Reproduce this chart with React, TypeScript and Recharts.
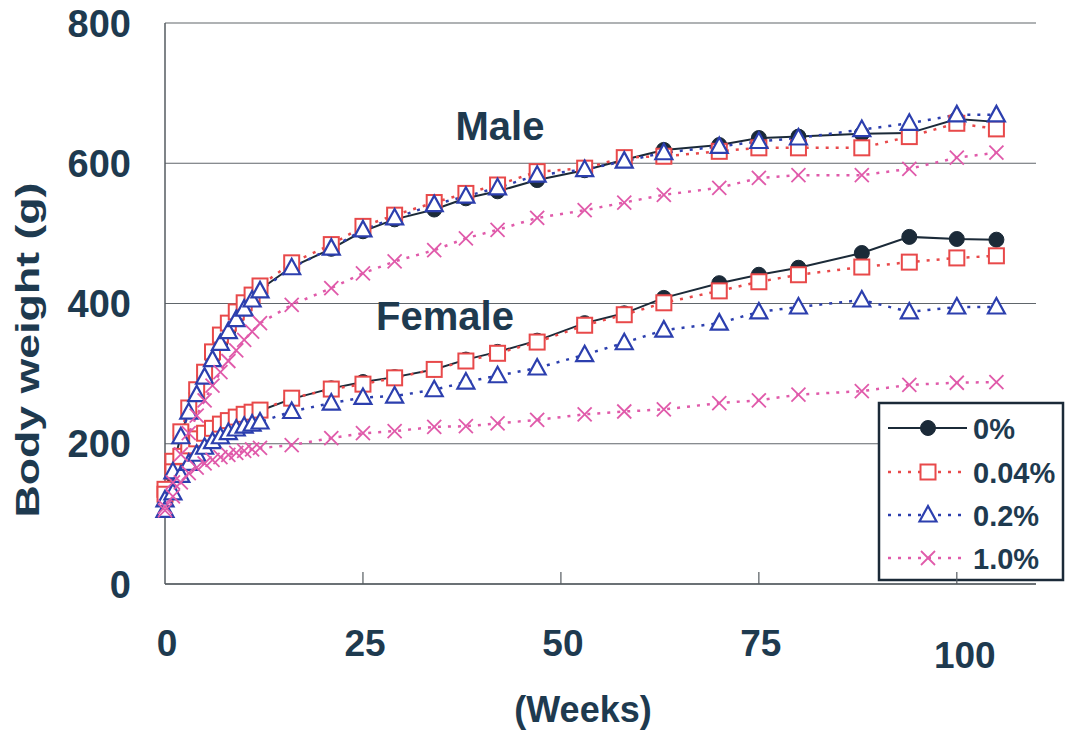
import React from 'react';
import { LineChart, Line, XAxis, YAxis, CartesianGrid, Customized } from 'recharts';

// ---- data ----
const weeks = [0, 1, 2, 3, 4, 5, 6, 7, 8, 9, 10, 11, 12, 16, 21, 25, 29, 34, 38, 42, 47, 53, 58, 63, 70, 75, 80, 88, 94, 100, 105];

const male0 = [128, 165, 212, 247, 272, 297, 323, 345, 362, 380, 394, 407, 420, 452, 478, 503, 520, 534, 550, 560, 576, 590, 605, 619, 626, 636, 638, 642, 643, 663, 659];
const male004 = [135, 175, 217, 251, 277, 302, 331, 355, 372, 388, 401, 412, 425, 458, 484, 510, 526, 544, 557, 569, 588, 593, 608, 610, 617, 622, 622, 622, 638, 657, 649];
const male02 = [120, 160, 210, 245, 270, 295, 320, 343, 360, 377, 392, 405, 418, 451, 479, 505, 522, 541, 553, 565, 583, 591, 603, 615, 624, 631, 636, 648, 657, 669, 669];
const male10 = [110, 145, 185, 215, 240, 262, 283, 302, 318, 333, 348, 360, 372, 398, 422, 443, 460, 476, 493, 505, 522, 533, 544, 555, 565, 579, 583, 583, 592, 608, 615];

const female0 = [125, 155, 180, 195, 205, 213, 220, 226, 231, 236, 240, 244, 247, 264, 279, 288, 295, 306, 320, 331, 347, 372, 386, 408, 429, 441, 451, 472, 495, 492, 491];
const female004 = [128, 160, 182, 197, 207, 215, 222, 228, 233, 238, 242, 245, 248, 265, 278, 285, 294, 306, 318, 329, 345, 369, 384, 401, 418, 431, 441, 452, 459, 465, 468];
const female02 = [105, 130, 155, 172, 185, 195, 203, 210, 216, 221, 225, 228, 231, 246, 258, 266, 268, 277, 288, 297, 308, 327, 344, 362, 372, 388, 395, 405, 388, 395, 395];
const female10 = [105, 125, 145, 158, 166, 172, 177, 181, 184, 187, 190, 192, 194, 198, 208, 215, 218, 224, 225, 229, 234, 242, 246, 249, 258, 262, 270, 275, 284, 287, 288];

const xTicks = [0, 25, 50, 75, 100];
const yTicks = [0, 200, 400, 600, 800];
const legendLabels = ['0%', '0.04%', '0.2%', '1.0%'];

const data = weeks.map((w, i) => ({
  week: w,
  m0: male0[i],
  m004: male004[i],
  m02: male02[i],
  m10: male10[i],
  f0: female0[i],
  f004: female004[i],
  f02: female02[i],
  f10: female10[i],
}));

// ---- styles ----
const TEXT = '#1e3a4f';
const FONT = '"Liberation Sans", Arial, Helvetica, sans-serif';
const BLACK = '#1b2a38';
const RED = '#e8494a';
const BLUE = '#2c3fae';
const PINK = '#e05aaa';
const AXIS = '#555b60';

type Kind = 'circle' | 'square' | 'triangle' | 'x';

function drawMarker(kind: Kind, cx: number, cy: number, key?: string) {
  if (kind === 'circle') {
    return <circle key={key} cx={cx} cy={cy} r={7.5} fill={BLACK} stroke={BLACK} strokeWidth={1} />;
  }
  if (kind === 'square') {
    return <rect key={key} x={cx - 7.5} y={cy - 7.5} width={15} height={15} fill="#fff" stroke={RED} strokeWidth={2} />;
  }
  if (kind === 'triangle') {
    return (
      <polygon
        key={key}
        points={`${cx},${cy - 9} ${cx - 8.5},${cy + 6.5} ${cx + 8.5},${cy + 6.5}`}
        fill="#fff"
        stroke={BLUE}
        strokeWidth={2.2}
      />
    );
  }
  return (
    <g key={key}>
      <line x1={cx - 7} y1={cy - 7} x2={cx + 7} y2={cy + 7} stroke={PINK} strokeWidth={1.8} />
      <line x1={cx - 7} y1={cy + 7} x2={cx + 7} y2={cy - 7} stroke={PINK} strokeWidth={1.8} />
    </g>
  );
}

const makeDot = (kind: Kind, name: string) => (props: any) => {
  const { cx, cy, index } = props;
  const key = `${name}-${index}`;
  if (cx == null || cy == null) return <g key={key} />;
  return drawMarker(kind, cx, cy, key);
};

const XTick = (props: any) => {
  const { x, y, payload } = props;
  const v = payload.value;
  const is100 = v === 100;
  return (
    <g>
      {v !== 0 && <line x1={x} x2={x} y1={y} y2={y - 12} stroke={AXIS} strokeWidth={1.2} />}
      <text
        x={x + (is100 ? 8 : 2)}
        y={y + (is100 ? 84 : 72)}
        textAnchor="middle"
        fontFamily={FONT}
        fontWeight="bold"
        fontSize={37}
        fill={TEXT}
      >
        {v}
      </text>
    </g>
  );
};

const YTick = (props: any) => {
  const { y, payload } = props;
  return (
    <text x={131} y={y + 13.5} textAnchor="end" fontFamily={FONT} fontWeight="bold" fontSize={38} fill={TEXT}>
      {payload.value}
    </text>
  );
};

const seriesStyle: { kind: Kind; color: string; dash?: string; width: number }[] = [
  { kind: 'circle', color: BLACK, width: 2 },
  { kind: 'square', color: RED, dash: '3 7', width: 2.5 },
  { kind: 'triangle', color: BLUE, dash: '3 7', width: 2.5 },
  { kind: 'x', color: PINK, dash: '3 7', width: 2.5 },
];

const Overlay = () => {
  const rows = [428, 472, 515, 558];
  return (
    <g>
      <text x={500} y={140} textAnchor="middle" fontFamily={FONT} fontWeight="bold" fontSize={40} fill={TEXT}>
        Male
      </text>
      <text x={445} y={330} textAnchor="middle" fontFamily={FONT} fontWeight="bold" fontSize={40} fill={TEXT}>
        Female
      </text>
      <text
        x={0}
        y={0}
        transform="translate(39,350) rotate(-90)"
        textAnchor="middle"
        fontFamily={FONT}
        fontWeight="bold"
        fontSize={34}
        fill={TEXT}
        textLength={335}
        lengthAdjust="spacingAndGlyphs"
      >
        Body weight (g)
      </text>
      <text x={583} y={722} textAnchor="middle" fontFamily={FONT} fontWeight="bold" fontSize={36} fill={TEXT}>
        (Weeks)
      </text>
      <rect x={879} y={403} width={184} height={177} fill="#fff" stroke={BLACK} strokeWidth={2.5} />
      {legendLabels.map((lab, i) => {
        const s = seriesStyle[i];
        const y = rows[i];
        return (
          <g key={lab}>
            <line x1={888} x2={967} y1={y} y2={y} stroke={s.color} strokeWidth={s.dash ? 2.5 : 2} strokeDasharray={s.dash} />
            {drawMarker(s.kind, 928, y)}
            <text x={973} y={y + 10.5} fontFamily={FONT} fontWeight="bold" fontSize={29} fill={TEXT}>
              {lab}
            </text>
          </g>
        );
      })}
    </g>
  );
};

const lineKeys: { key: string; s: number }[] = [
  { key: 'm0', s: 0 },
  { key: 'f0', s: 0 },
  { key: 'm004', s: 1 },
  { key: 'f004', s: 1 },
  { key: 'm02', s: 2 },
  { key: 'f02', s: 2 },
  { key: 'm10', s: 3 },
  { key: 'f10', s: 3 },
];

export default function App() {
  return (
    <div style={{ position: 'absolute', left: 0, top: 0, width: 1065, height: 736, background: '#fff' }}>
      <LineChart width={1065} height={736} data={data} margin={{ top: 23, right: 29, bottom: 52, left: 65 }}>
        <CartesianGrid vertical={false} stroke="#60666b" strokeWidth={1.2} />
        <XAxis
          dataKey="week"
          type="number"
          domain={[0, 110]}
          ticks={xTicks}
          tick={<XTick />}
          tickSize={0}
          tickMargin={0}
          tickLine={false}
          height={100}
          axisLine={{ stroke: AXIS, strokeWidth: 1.5 }}
          interval={0}
        />
        <YAxis
          type="number"
          domain={[0, 800]}
          ticks={yTicks}
          tick={<YTick />}
          tickSize={0}
          tickLine={false}
          width={100}
          axisLine={{ stroke: AXIS, strokeWidth: 1.5 }}
          interval={0}
        />
        {lineKeys.map(({ key, s }) => {
          const st = seriesStyle[s];
          return (
            <Line
              key={key}
              type="linear"
              dataKey={key}
              stroke={st.color}
              strokeWidth={st.width}
              strokeDasharray={st.dash}
              dot={makeDot(st.kind, key)}
              activeDot={false}
              isAnimationActive={false}
            />
          );
        })}
        <Customized component={Overlay} />
      </LineChart>
    </div>
  );
}
